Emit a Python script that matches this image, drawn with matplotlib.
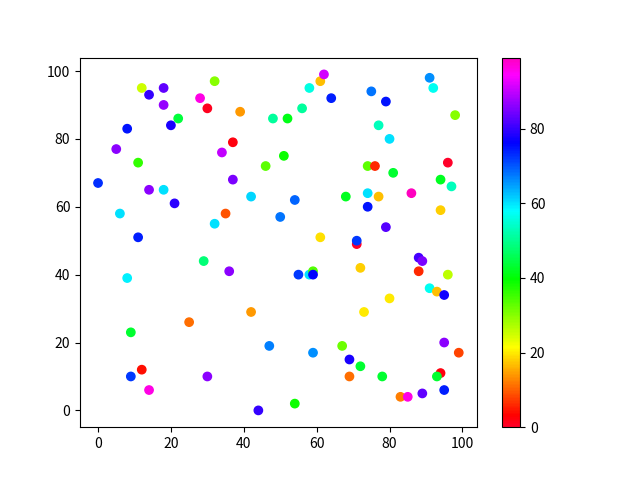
import matplotlib
matplotlib.use("Agg")
import matplotlib.pyplot as plt

plt.rcParams['font.family'] = ['Noto Sans CJK SC', 'DejaVu Sans']

x = [0, 5, 6, 8, 8, 9, 9, 11, 11, 12, 12, 14, 14, 14, 18, 18, 18, 20, 21, 22,
     25, 28, 29, 30, 30, 32, 32, 34, 35, 36, 37, 37, 39, 42, 42, 44, 46, 47, 48, 50,
     51, 52, 54, 54, 55, 56, 58, 58, 59, 59, 59, 61, 61, 62, 64, 67, 68, 69, 69, 71,
     71, 72, 72, 73, 74, 74, 74, 75, 76, 77, 77, 78, 79, 79, 80, 80, 81, 83, 85, 86,
     88, 88, 89, 89, 91, 91, 92, 94, 93, 93, 94, 94, 95, 95, 95, 96, 96, 97, 98, 99]
y = [67, 77, 58, 83, 39, 23, 10, 51, 73, 95, 12, 93, 65, 6, 95, 90, 65, 84, 61, 86,
     26, 92, 44, 89, 10, 97, 55, 76, 58, 41, 79, 68, 88, 63, 29, 0, 72, 19, 86, 57,
     75, 86, 62, 2, 40, 89, 95, 40, 41, 40, 17, 51, 97, 99, 92, 19, 63, 15, 10, 49,
     50, 42, 13, 29, 72, 64, 60, 94, 72, 84, 63, 10, 91, 54, 80, 33, 70, 4, 4, 64,
     45, 41, 44, 5, 98, 36, 95, 11, 10, 35, 68, 59, 34, 20, 6, 73, 40, 66, 87, 17]
c = [73, 86, 60, 75, 59, 43, 72, 74, 36, 25, 4, 80, 86, 96, 83, 87, 60, 78, 79, 44,
     11, 96, 48, 1, 86, 30, 60, 90, 9, 86, 2, 85, 14, 61, 14, 80, 33, 67, 51, 68,
     39, 41, 69, 39, 72, 51, 56, 60, 34, 76, 66, 19, 17, 91, 74, 32, 42, 78, 11, 0,
     72, 18, 43, 20, 33, 60, 75, 68, 6, 53, 17, 43, 75, 82, 60, 20, 43, 12, 96, 99,
     81, 6, 85, 83, 66, 57, 57, 2, 43, 17, 42, 18, 77, 86, 74, 0, 26, 53, 30, 8]

fig = plt.figure(figsize=(6.4, 4.8), dpi=100)
sc = plt.scatter(x, y, c=c, cmap='gist_rainbow')
plt.colorbar(sc)
plt.savefig("out.png")
